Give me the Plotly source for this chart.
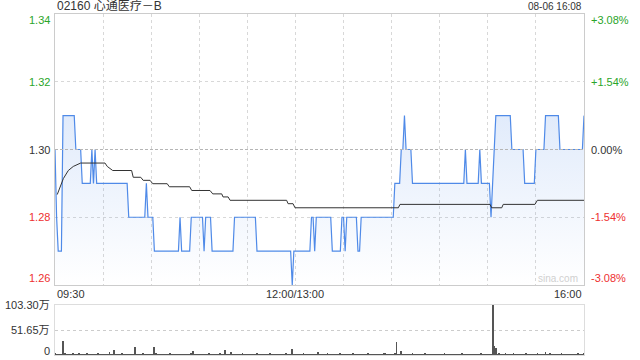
import plotly.graph_objects as go

# ---------------- data ----------------
title_text = "02160 心通医疗－B"
date_text = "08-06 16:08"
prev_close = 1.30

# per-minute last price, run-length encoded (level, number of minutes), 09:30 -> 16:00
price_levels = [1.30, 1.28, 1.27, 1.31, 1.30, 1.29, 1.30, 1.29, 1.30, 1.29,
                1.28, 1.29, 1.28, 1.27, 1.28, 1.27, 1.28, 1.27, 1.28, 1.27,
                1.28, 1.27, 1.26, 1.27, 1.28, 1.27, 1.28, 1.27, 1.28, 1.27,
                1.28, 1.27, 1.28, 1.29, 1.30, 1.31, 1.30, 1.29, 1.30, 1.29,
                1.30, 1.29, 1.28, 1.29, 1.30, 1.31, 1.30, 1.29, 1.30, 1.31,
                1.30, 1.31]
price_runs = [1, 1, 3, 8, 4, 6, 1, 1, 1, 20,
              11, 1, 4, 16, 1, 6, 8, 1, 4, 14,
              14, 22, 1, 11, 2, 1, 10, 6, 2, 1,
              7, 2, 21, 4, 2, 1, 4, 33, 1, 8,
              1, 6, 1, 1, 1, 10, 8, 7, 6, 9,
              15, 1]

# average price line (minute, price)
avg_t = [1.4, 5.2, 8.3, 11.4, 16, 31.2, 32.6, 36, 47.8, 48.8, 53.5, 55, 59.3, 61,
         70, 71.3, 84, 85.3, 96.7, 98.4, 104, 104.8, 108, 109.2, 144.5, 145.4,
         148.5, 149.7, 214.2, 215.2, 271.4, 272.4, 278.7, 279.6, 299.4, 300.9, 330]
avg_p = [1.2867, 1.2914, 1.2938, 1.2950, 1.2960, 1.2960, 1.2950, 1.2938, 1.2938,
         1.2918, 1.2918, 1.2909, 1.2909, 1.2899, 1.2899, 1.2890, 1.2890, 1.2879,
         1.2879, 1.2869, 1.2869, 1.2860, 1.2860, 1.2850, 1.2850, 1.2840, 1.2840,
         1.2828, 1.2828, 1.2838, 1.2838, 1.2828, 1.2828, 1.2838, 1.2838, 1.2850,
         1.2850]

# per-minute volume (万股)
volume = [
    4, 2, 1, 2, 1, 28.5, 3, 2, 1, 2, 1, 3, 2, 1, 2, 3, 1, 2, 1, 2, 3, 1, 2, 1, 1, 2, 1, 3, 2, 1,
    2, 1, 2, 1, 7, 2, 1, 10.7, 2, 1, 2, 1, 3, 1, 2, 1, 2, 1, 2, 1, 15.7, 2, 1, 2, 1, 3, 1, 2, 1, 2,
    1, 2, 15.7, 3, 2, 1, 2, 1, 2, 1, 2, 1, 3, 2, 1, 2, 1, 1, 2, 1, 2, 1, 2, 1, 2, 3, 9.3, 2, 1, 2,
    1, 2, 1, 2, 1, 2, 3, 1, 2, 1, 2, 1, 2, 3, 1, 2, 10.7, 2, 1, 2, 7.1, 2, 1, 2, 1, 2, 1, 3, 2, 1,
    2, 1, 2, 1, 2, 1, 3, 2, 1, 2, 1, 2, 1, 2, 3, 1, 2, 1, 2, 1, 2, 1, 2, 1, 3, 2, 1, 2, 11.4, 2,
    1, 2, 1, 2, 1, 3, 2, 1, 2, 1, 2, 1, 2, 1, 7.1, 2, 1, 2, 1, 2, 3, 1, 2, 1, 2, 1, 2, 1, 3, 2,
    1, 2, 1, 2, 1, 2, 3, 1, 2, 1, 2, 1, 2, 1, 2, 3, 1, 2, 1, 2, 1, 2, 1, 2, 1, 3, 5, 2, 1, 2,
    1, 2, 3, 26.4, 2, 1, 9.3, 2, 1, 2, 1, 2, 1, 3, 2, 1, 2, 1, 2, 1, 2, 3, 1, 2, 1, 2, 1, 2, 1, 2,
    1, 2, 1, 3, 2, 1, 2, 1, 2, 1, 2, 1, 2, 1, 3, 2, 1, 2, 1, 2, 1, 2, 1, 2, 1, 2, 3, 1, 2, 1,
    2, 1, 2, 103.3, 17.8, 14.2, 2, 3, 2, 1, 2, 3.6, 2, 1, 2, 1, 3, 2, 1, 2, 1, 2, 1, 2, 3, 1, 2, 1, 2, 1,
    2, 5, 1, 2, 1, 2, 7.1, 2, 1, 3, 2, 1, 2, 1, 2, 1, 3, 2, 1, 2, 1, 2, 1, 2, 1, 2, 3, 1, 2, 1,
    3]

price_ticks = [1.26, 1.28, 1.30, 1.32, 1.34]
time_grid = list(range(0, 331, 30))
time_tick_vals = [0, 150, 330]
time_tick_text = ["09:30", "12:00/13:00", "16:00"]
vol_ticks = [0, 51.65, 103.30]
vol_tick_text = ["0", "51.65万", "103.30万"]

# ---------------- build ----------------
minutes = list(range(len(volume)))
price = []
for lv, n in zip(price_levels, price_runs):
    price += [lv] * n

W, H = 640, 360
L, R = 55, 584
P_TOP, P_BOT = 14, 285
V_TOP, V_BOT = 305, 355
FONT = "Liberation Sans, Arial, Noto Sans CJK SC, sans-serif"
UP, DOWN, FLAT = "#2aa52a", "#ee3030", "#333333"

fig = go.Figure()
fig.add_trace(go.Scatter(
    x=minutes, y=price, mode="lines",
    line=dict(color="#4f8ae8", width=1.2, shape="linear"),
    fill="tozeroy",
    fillgradient=dict(type="vertical",
                      colorscale=[[0, "rgba(79,138,232,0.0)"], [1, "rgba(79,138,232,0.17)"]],
                      start=1.26, stop=1.31),
    hoverinfo="skip"))
fig.add_trace(go.Scatter(x=avg_t, y=avg_p, mode="lines",
                         line=dict(color="#333333", width=1), hoverinfo="skip"))
fig.add_trace(go.Bar(x=minutes, y=volume, xaxis="x2", yaxis="y2",
                     marker=dict(color="#555555", line=dict(width=0)), width=0.55,
                     hoverinfo="skip"))

xdom = [L / W, R / W]
fig.update_layout(
    width=W, height=H, margin=dict(l=0, r=0, t=0, b=0),
    paper_bgcolor="white", plot_bgcolor="white", showlegend=False,
    bargap=0,
    xaxis=dict(domain=xdom, range=[0, 330], tickvals=time_grid, showticklabels=False,
               showgrid=True, gridcolor="#d8d8d8", griddash="dot", gridwidth=1,
               showline=True, mirror=True, linecolor="#cccccc", zeroline=False,
               ticks="", anchor="y"),
    yaxis=dict(domain=[1 - P_BOT / H, 1 - P_TOP / H], range=[1.26, 1.34],
               tickvals=[1.28, 1.32], showticklabels=False,
               showgrid=True, gridcolor="#d8d8d8", griddash="dot",
               showline=True, mirror=True, linecolor="#cccccc", zeroline=False,
               ticks="", anchor="x"),
    xaxis2=dict(domain=xdom, range=[0, 330], showticklabels=False, showgrid=False,
                showline=True, mirror=True, linecolor="#dddddd", zeroline=False,
                ticks="", anchor="y2"),
    yaxis2=dict(domain=[1 - V_BOT / H, 1 - V_TOP / H], range=[0, 103.3],
                tickvals=[51.65, 103.3], showticklabels=False,
                showgrid=True, gridcolor="#cccccc", griddash="dot",
                showline=True, mirror=True, linecolor="#dddddd", zeroline=False,
                ticks="", anchor="x2"),
)

# previous close reference line
fig.add_shape(type="line", xref="x", yref="y", x0=0, x1=330, y0=prev_close, y1=prev_close,
              line=dict(color="#b5b5b5", width=1, dash="3px,2px"))

ann = []
n = len(price_ticks)
for i, v in enumerate(price_ticks):
    col = UP if v > prev_close + 1e-9 else (DOWN if v < prev_close - 1e-9 else FLAT)
    pct = (v - prev_close) / prev_close * 100
    ptxt = "0.00%" if abs(pct) < 1e-9 else f"{pct:+.2f}%"
    if i == 0:
        ya, ys = "bottom", -1
    elif i == n - 1:
        ya, ys = "top", 2
    else:
        ya, ys = "middle", 0
    ann.append(dict(xref="paper", x=52 / W, xanchor="right", yref="y", y=v, yanchor=ya,
                    yshift=ys, text=f"{v:.2f}", showarrow=False,
                    font=dict(family=FONT, size=11, color=col)))
    ann.append(dict(xref="paper", x=589 / W, xanchor="left", yref="y", y=v, yanchor=ya,
                    yshift=ys, text=ptxt, showarrow=False,
                    font=dict(family=FONT, size=11, color=col)))

anchors = ["left", "center", "right"]
for v, t, a in zip(time_tick_vals, time_tick_text, anchors):
    ann.append(dict(xref="x", x=v, xanchor=a, yref="paper", y=1 - 294 / H, yanchor="middle",
                    text=t, showarrow=False, font=dict(family=FONT, size=11, color="#333333")))

for v, t in zip(vol_ticks, vol_tick_text):
    ys = 4 if v == 0 else 0
    ann.append(dict(xref="paper", x=52 / W, xanchor="right", yref="y2", y=v, yanchor="middle",
                    yshift=ys, text=t, showarrow=False,
                    font=dict(family=FONT, size=11, color="#333333")))

ann.append(dict(xref="paper", x=L / W, xanchor="left", yref="paper", y=1 - 6 / H,
                yanchor="middle", text=title_text, showarrow=False,
                font=dict(family=FONT, size=12, color="#333333")))
ann.append(dict(xref="paper", x=R / W, xanchor="right", yref="paper", y=1 - 6 / H,
                yanchor="middle", text=date_text, showarrow=False,
                font=dict(family=FONT, size=10, color="#333333")))
ann.append(dict(xref="paper", x=580 / W, xanchor="right", yref="paper", y=1 - 278 / H,
                yanchor="middle", text="sina.com", showarrow=False,
                font=dict(family=FONT, size=10, color="#d0d0d0")))
fig.update_layout(annotations=ann)

fig.write_html("out.html")
